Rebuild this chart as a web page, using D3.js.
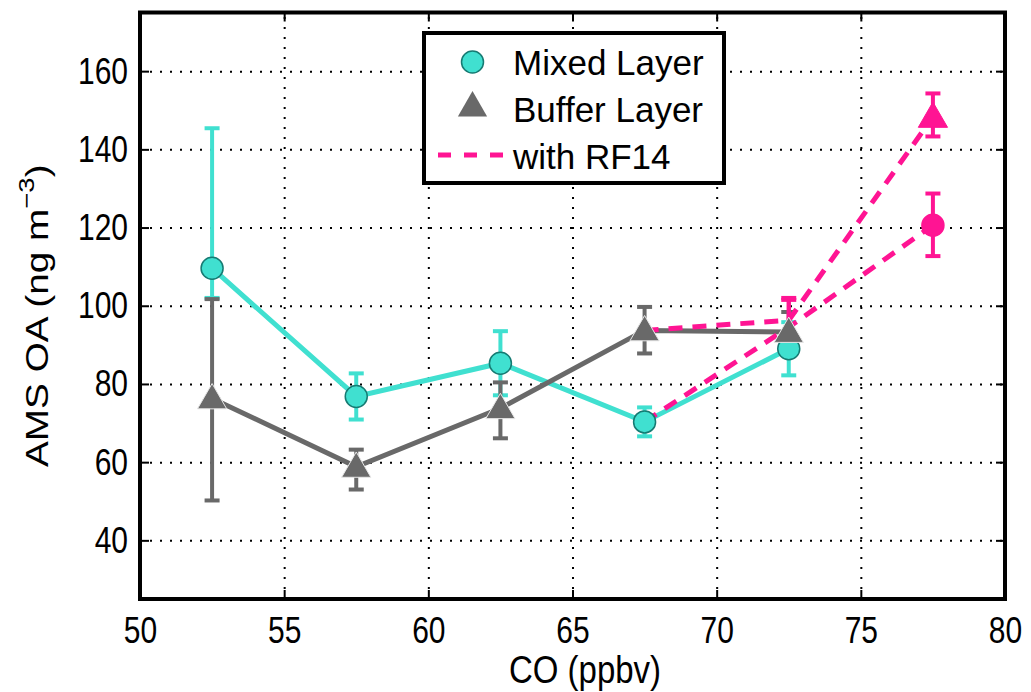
<!DOCTYPE html>
<html>
<head>
<meta charset="utf-8">
<script src="https://cdn.jsdelivr.net/npm/d3@7"></script>
<style>
  body { margin: 0; background: #fff; }
  svg { display: block; font-family: "Liberation Sans", Arial, sans-serif; }
</style>
</head>
<body>
<script>
// data
var coBins = [52.5, 57.5, 62.5, 67.5, 72.5];
var mixedOA = [109.6, 76.8, 85.3, 70.3, 89.0];
var mixedLo = [102.0, 70.9, 77.1, 66.6, 82.2];
var mixedHi = [145.4, 82.7, 93.5, 74.0, 95.8];
var bufferOA = [76.3, 58.8, 73.8, 93.7, 93.3];
var bufferLo = [50.2, 53.0, 66.1, 87.8, 88.2];
var bufferHi = [101.7, 63.2, 80.4, 99.7, 98.4];

var rf14Bins = [67.5, 72.5, 77.5];
var rf14Mixed = [70.3, 94.5, 120.6];
var rf14MixedLo = [70.3, 90.0, 112.7];
var rf14MixedHi = [70.3, 101.5, 128.7];
var rf14Buffer = [93.7, 96.3, 148.3];
var rf14BufferLo = [93.7, 92.0, 143.3];
var rf14BufferHi = [93.7, 102.0, 154.3];

var xTicks = [50, 55, 60, 65, 70, 75, 80];
var yTicks = [40, 60, 80, 100, 120, 140, 160];
var legendLabels = ["Mixed Layer", "Buffer Layer", "with RF14"];

(function(){

var cyan = "#40E0D0", cyanEdge = "#167a72", gray = "#696969", pink = "#FF1493";

var width = 1031, height = 692;
var pLeft = 140, pRight = 1005, pTop = 12.5, pBottom = 599;
var stretch = 1.25; //reference text is taller than it is wide

var svg = d3.select("body").append("svg")
  .attr("width", width)
  .attr("height", height);

var x = d3.scaleLinear().domain([50, 80]).range([pLeft, pRight]);
var y = d3.scaleLinear().domain([25, 175]).range([pBottom, pTop]);

function dotted(g){
  g.select(".domain").remove();
  g.selectAll("line").attr("stroke", "#000").attr("stroke-width", 2).attr("stroke-dasharray", "2,8");
}

//dotted grid
svg.append("g")
  .attr("transform", "translate(0," + pBottom + ")")
  .call(d3.axisBottom(x).tickValues(xTicks.slice(1, -1)).tickSize(-(pBottom - pTop)).tickFormat(""))
  .call(dotted);
svg.append("g")
  .attr("transform", "translate(" + pLeft + ",0)")
  .call(d3.axisLeft(y).tickValues(yTicks).tickSize(-(pRight - pLeft)).tickFormat(""))
  .call(dotted);

//axes with inward ticks
function styleAxis(g){
  g.select(".domain").remove();
  g.selectAll("line").attr("stroke", "#000").attr("stroke-width", 2);
  g.selectAll("text").attr("fill", "#000").attr("font-size", 30)
    .attr("font-family", "Liberation Sans, Arial, sans-serif");
}
svg.append("g")
  .attr("transform", "translate(0," + pBottom + ")")
  .call(d3.axisBottom(x).tickValues(xTicks).tickSizeInner(-9).tickSizeOuter(0))
  .call(styleAxis)
  .call(function(g){
    g.selectAll("text").attr("dy", null).attr("y", 44 / stretch)
      .attr("transform", "scale(1," + stretch + ")");
  });
svg.append("g")
  .attr("transform", "translate(0," + pTop + ")")
  .call(d3.axisTop(x).tickValues(xTicks).tickSizeInner(-9).tickSizeOuter(0).tickFormat(""))
  .call(styleAxis);
svg.append("g")
  .attr("transform", "translate(" + pLeft + ",0)")
  .call(d3.axisLeft(y).tickValues(yTicks).tickSizeInner(-9).tickSizeOuter(0).tickPadding(12))
  .call(styleAxis)
  .call(function(g){
    g.selectAll("text").attr("transform", "scale(1," + stretch + ")");
  });
svg.append("g")
  .attr("transform", "translate(" + pRight + ",0)")
  .call(d3.axisRight(y).tickValues(yTicks).tickSizeInner(-9).tickSizeOuter(0).tickFormat(""))
  .call(styleAxis);

svg.append("rect")
  .attr("x", pLeft).attr("y", pTop)
  .attr("width", pRight - pLeft).attr("height", pBottom - pTop)
  .attr("fill", "none").attr("stroke", "#000").attr("stroke-width", 4);

//series helpers
function rows(xs, ys, lo, hi){
  return xs.map(function(v, i){ return {x: v, y: ys[i], lo: lo[i], hi: hi[i]}; });
}
var mixed = rows(coBins, mixedOA, mixedLo, mixedHi);
var buffer = rows(coBins, bufferOA, bufferLo, bufferHi);
var rfMixed = rows(rf14Bins, rf14Mixed, rf14MixedLo, rf14MixedHi);
var rfBuffer = rows(rf14Bins, rf14Buffer, rf14BufferLo, rf14BufferHi);

var line = d3.line().x(function(d){ return x(d.x); }).y(function(d){ return y(d.y); });

function errorBars(data, color){
  var g = svg.append("g").attr("stroke", color).attr("stroke-width", 4);
  data.forEach(function(d){
    if (d.hi == d.lo) return;
    g.append("line").attr("x1", x(d.x)).attr("x2", x(d.x)).attr("y1", y(d.lo)).attr("y2", y(d.hi));
    g.append("line").attr("x1", x(d.x) - 7.5).attr("x2", x(d.x) + 7.5).attr("y1", y(d.lo)).attr("y2", y(d.lo));
    g.append("line").attr("x1", x(d.x) - 7.5).attr("x2", x(d.x) + 7.5).attr("y1", y(d.hi)).attr("y2", y(d.hi));
  });
}
function drawLine(data, color, dash){
  svg.append("path").datum(data)
    .attr("d", line)
    .attr("fill", "none")
    .attr("stroke", color)
    .attr("stroke-width", 5)
    .attr("stroke-dasharray", dash || null);
}
var tri = d3.symbol().type(d3.symbolTriangle).size(370);
function circles(data, fill, edge){
  svg.selectAll(null).data(data).enter().append("circle")
    .attr("cx", function(d){ return x(d.x); })
    .attr("cy", function(d){ return y(d.y); })
    .attr("r", 11)
    .attr("fill", fill)
    .attr("stroke", edge)
    .attr("stroke-width", 1.5);
}
function triangles(data, fill, edge){
  svg.selectAll(null).data(data).enter().append("path")
    .attr("d", tri)
    .attr("transform", function(d){ return "translate(" + x(d.x) + "," + (y(d.y) + 2) + ")"; })
    .attr("fill", fill)
    .attr("stroke", edge)
    .attr("stroke-width", 1);
}

drawLine(mixed, cyan);
errorBars(mixed, cyan);
drawLine(buffer, gray);
errorBars(buffer, gray);

drawLine(rfMixed, pink, "14,10");
drawLine(rfBuffer, pink, "14,10");
errorBars(rfMixed, pink);
errorBars(rfBuffer, pink);

circles(mixed, cyan, cyanEdge);
triangles(buffer, gray, "#e8e8e8");
circles(rfMixed.slice(2), pink, pink);
triangles(rfBuffer.slice(2), pink, pink);

//axis labels
svg.append("text")
  .attr("transform", "translate(585,683) scale(1,1.15)")
  .attr("text-anchor", "middle")
  .attr("font-size", 33)
  .text("CO (ppbv)");

var ylab = svg.append("text")
  .attr("transform", "translate(48," + ((pTop + pBottom) / 2 + 10) + ") rotate(-90) scale(" + stretch + ",1)")
  .attr("text-anchor", "middle")
  .attr("font-size", 31);
ylab.append("tspan").text("AMS OA (ng m");
ylab.append("tspan").attr("font-size", 22).attr("dy", -14).text("\u22123");
ylab.append("tspan").attr("dy", 14).text(")");

//legend
var lg = svg.append("g");
lg.append("rect")
  .attr("x", 424).attr("y", 33)
  .attr("width", 300).attr("height", 150)
  .attr("fill", "#fff").attr("stroke", "#000").attr("stroke-width", 4);
lg.append("circle").attr("cx", 472.5).attr("cy", 62).attr("r", 11)
  .attr("fill", cyan).attr("stroke", cyanEdge).attr("stroke-width", 1.5);
lg.append("path").attr("d", tri).attr("transform", "translate(472.5,108)")
  .attr("fill", gray);
lg.append("line").attr("x1", 438).attr("x2", 507).attr("y1", 155).attr("y2", 155)
  .attr("stroke", pink).attr("stroke-width", 5).attr("stroke-dasharray", "13,13");
lg.selectAll(".legendText")
  .data(legendLabels)
  .enter()
  .append("text")
  .attr("class", "legendText")
  .attr("x", 513)
  .attr("y", function(d, i){ return 75 + i * 47; })
  .attr("font-size", 35)
  .text(function(d){ return d; });

})();
</script>
</body>
</html>
